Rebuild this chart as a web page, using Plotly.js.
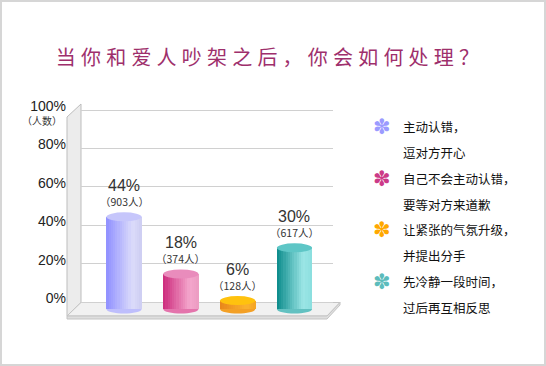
<!DOCTYPE html>
<html><head><meta charset="utf-8">
<script src="https://cdn.plot.ly/plotly-3.0.1.min.js"></script>
<style>
html,body{margin:0;padding:0;background:#fff;}
#wrap{position:relative;width:546px;height:366px;}
#chart{width:546px;height:366px;}
#border{position:absolute;left:0;top:0;width:546px;height:366px;box-sizing:border-box;border:2px solid #d6d6d6;pointer-events:none;}
.gtitle{letter-spacing:5.2px;}
</style></head><body>
<div id="wrap"><div id="chart"></div><div id="border"></div></div>
<script>
// ---- data ----
const categoryLine1 = ["主动认错，", "自己不会主动认错，", "让紧张的气氛升级，", "先冷静一段时间，"];
const categoryLine2 = ["逗对方开心", "要等对方来道歉", "并提出分手", "过后再互相反思"];
const shareValues = [44.7, 18.5, 6.3, 30.5];
const percentLabels = ["44%", "18%", "6%", "30%"];
const peopleCounts = [903, 374, 128, 617];
const yTickVals = [0, 20, 40, 60, 80, 100];
const yTickText = ["0%", "20%", "40%", "60%", "80%", "100%"];
const titleText = "当你和爱人吵架之后，你会如何处理？";
const unitLabel = "（人数）";

// ---- styles ----
const gradStops = [
  ["#9090ff", "#dcdcfa", "#cdcdf2"],
  ["#cc2a7c", "#f4a6cc", "#ec9cc2"],
  ["#e8861a", "#fbb22e", "#f4a422"],
  ["#0a8a8a", "#9ce6e6", "#8adede"]
];
const capColors = ["#c6c6fb", "#e98cbc", "#ffc20e", "#5ec6c6"];
const iconColors = ["#9b9bff", "#cc3a88", "#ffa800", "#5cbcbc"];

function hex2rgb(h){return [1,3,5].map(i=>parseInt(h.substr(i,2),16));}
function mix(a,b,t){const A=hex2rgb(a),B=hex2rgb(b);return 'rgb('+A.map((v,i)=>Math.round(v+(B[i]-v)*t)).join(',')+')';}
function grad(stops,t){ if(t<0.75) return mix(stops[0],stops[1],t/0.75); return mix(stops[1],stops[2],(t-0.75)/0.25); }

const xIdx = shareValues.map((v,i)=>i);
const N = 16, barW = 0.62, baseVal = 2.4, capHalf = 2.06;
const traces = [];
for (let s=0; s<N; s++){
  const t = (s+0.5)/N;
  traces.push({
    type:'bar', x:xIdx, y:shareValues.map(v=>v-baseVal), base:shareValues.map(()=>baseVal),
    width:barW/N+0.004, offset:-barW/2 + s*barW/N,
    marker:{color:gradStops.map(g=>grad(g,t)), line:{width:0}},
    yaxis:'y2', hoverinfo:'skip', showlegend:false
  });
}

// frame geometry (pixel -> paper)
const L=81, R=213, T=100, B=46, W=546-L-R, H=366-T-B;
const px=x=>(x-L)/W, py=y=>(366-B-y)/H;
function path(pts){return 'M'+pts.map(p=>px(p[0])+','+py(p[1])).join('L')+'Z';}

const shapes = [
  {type:'path', xref:'paper', yref:'paper', layer:'below', path:path([[67,117],[81,104],[81,302.5],[67,316]]),
   fillcolor:'#ececec', line:{color:'#bdbdbd', width:1}},
  {type:'path', xref:'paper', yref:'paper', layer:'below', path:path([[81,302.5],[340,302.5],[327,316],[67,316]]),
   fillcolor:'#f1f1f1', line:{color:'#c4c4c4', width:1}},
  {type:'path', xref:'paper', yref:'paper', layer:'below', path:path([[67,316],[327,316],[340,302.5],[340,305],[327,319],[67,319]]),
   fillcolor:'#dedede', line:{color:'#c4c4c4', width:1}}
];
shareValues.forEach((v,i)=>{
  const xl=i-barW/2, xr=i+barW/2, k=capHalf*4/3;
  // lower half-ellipse at the base of each cylinder
  shapes.push({type:'path', xref:'x', yref:'y2', layer:'above',
    path:'M'+xl+','+baseVal+' C'+xl+','+(baseVal-k)+' '+xr+','+(baseVal-k)+' '+xr+','+baseVal+' Z',
    fillcolor:grad(gradStops[i],0.45), line:{width:0}});
  shapes.push({type:'circle', xref:'x', yref:'y2', layer:'above', x0:xl, x1:xr,
    y0:v-capHalf, y1:v+capHalf, fillcolor:capColors[i], line:{width:0}});
});

const annotations = [];
annotations.push({xref:'paper', yref:'y', x:0, y:100, xanchor:'right', xshift:-17, yshift:-10,
  text:unitLabel, showarrow:false, font:{family:'Noto Sans CJK SC', size:10, color:'#333'}});
shareValues.forEach((v,i)=>{
  annotations.push({xref:'x', yref:'y2', x:i, y:v, yshift:31, text:percentLabels[i], showarrow:false,
    font:{family:'Liberation Sans, Arial', size:16, color:'#333'}});
  annotations.push({xref:'x', yref:'y2', x:i, y:v, yshift:15, text:'（'+peopleCounts[i]+'人）', showarrow:false,
    font:{family:'Noto Sans CJK SC', size:10.5, color:'#333'}});
});
const legTop=127, legStep=51.5, legGap=25.5;
categoryLine1.forEach((c,i)=>{
  const y0 = legTop + i*legStep;
  annotations.push({xref:'paper', yref:'paper', x:px(382), y:py(y0), xanchor:'center', yanchor:'middle',
    text:'✽', showarrow:false, font:{family:'DejaVu Sans', size:21, color:iconColors[i]}});
  annotations.push({xref:'paper', yref:'paper', x:px(401), y:py(y0), xanchor:'left', yanchor:'middle',
    text:c, showarrow:false, font:{family:'Noto Sans CJK SC', size:12.5, color:'#111'}});
  annotations.push({xref:'paper', yref:'paper', x:px(401), y:py(y0+legGap), xanchor:'left', yanchor:'middle',
    text:categoryLine2[i], showarrow:false, font:{family:'Noto Sans CJK SC', size:12.5, color:'#111'}});
});

const layout = {
  width:546, height:366,
  margin:{l:L, r:R, t:T, b:B},
  paper_bgcolor:'#ffffff', plot_bgcolor:'rgba(0,0,0,0)',
  title:{text:titleText, x:270/546, xanchor:'center', xref:'container', y:1-58/366, yanchor:'middle', yref:'container',
    font:{family:'Noto Sans CJK SC', size:20, color:'#9e2f6c'}},
  barmode:'overlay', bargap:0,
  showlegend:false,
  xaxis:{range:[-0.757, 3.678], showgrid:false, zeroline:false, showticklabels:false, showline:false, ticks:'', fixedrange:true},
  yaxis:{range:[-9.375, 105.21], tickvals:yTickVals, ticktext:yTickText, showgrid:true, gridcolor:'#d0d0d0', gridwidth:1,
    zeroline:false, showline:false, ticks:'', ticklabelstandoff:14, ticklabelshift:-4,
    tickfont:{family:'Liberation Sans, Arial', size:14, color:'#222'}, fixedrange:true},
  yaxis2:{range:[-2.615, 98.3], overlaying:'y', visible:false, fixedrange:true},
  shapes:shapes, annotations:annotations
};
Plotly.newPlot('chart', traces, layout, {displayModeBar:false, staticPlot:true});
</script>
</body></html>
